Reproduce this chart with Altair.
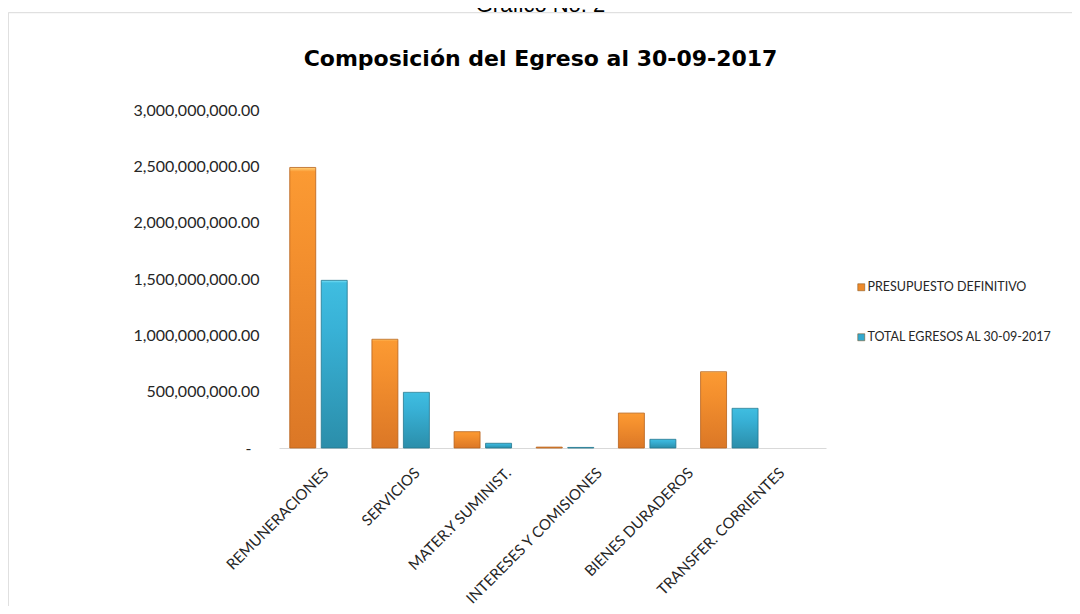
import altair as alt
import pandas as pd

categories = ["REMUNERACIONES", "SERVICIOS", "MATER.Y SUMINIST.",
              "INTERESES Y COMISIONES", "BIENES DURADEROS", "TRANSFER. CORRIENTES"]
series = ["PRESUPUESTO DEFINITIVO", "TOTAL EGRESOS AL 30-09-2017"]
presupuesto = [2490000000, 965000000, 145000000, 8000000, 310000000, 677000000]
egresos = [1488000000, 494000000, 42000000, 5000000, 77000000, 352000000]
y_ticks = [0, 500000000, 1000000000, 1500000000, 2000000000, 2500000000, 3000000000]

rows = []
for c, p, e in zip(categories, presupuesto, egresos):
    rows.append({"cat": c, "series": series[0], "value": p})
    rows.append({"cat": c, "series": series[1], "value": e})
df = pd.DataFrame(rows)
cat_df = pd.DataFrame({"cat": categories})
frame_df = pd.DataFrame({"k": [0]})

W, H = 547, 338

orange_grad = alt.LinearGradient(
    gradient="linear", x1=0, x2=0, y1=0, y2=1,
    stops=[alt.GradientStop(color="#FFD37A", offset=0),
           alt.GradientStop(color="#FB9A33", offset=0.015),
           alt.GradientStop(color="#F4902E", offset=0.3),
           alt.GradientStop(color="#DB7726", offset=1)])
blue_grad = alt.LinearGradient(
    gradient="linear", x1=0, x2=0, y1=0, y2=1,
    stops=[alt.GradientStop(color="#7FE6FA", offset=0),
           alt.GradientStop(color="#3FBDE0", offset=0.015),
           alt.GradientStop(color="#38B1D6", offset=0.3),
           alt.GradientStop(color="#2B8EAA", offset=1)])

x_bar = alt.X("cat:N", sort=categories, axis=None,
              scale=alt.Scale(range=[-1.6, 491.4], paddingInner=0, paddingOuter=0))
xoff = alt.XOffset("series:N", sort=series,
                   scale=alt.Scale(paddingInner=0.175, paddingOuter=0.392))
y_axis = alt.Axis(values=y_ticks, grid=False, domain=False, ticks=False,
                  labelExpr="datum.value == 0 ? '-' : format(datum.value, ',.2f')",
                  labelFont="Lato", labelFontSize=16, labelColor="#262626",
                  labelPadding={"condition": {"test": "datum.value == 0", "value": 28}, "value": 20},
                  title=None)
y_enc = alt.Y("value:Q", scale=alt.Scale(domain=[0, 3000000000], nice=False), axis=y_axis)

base = alt.Chart(df)

legend_layer = base.mark_bar(opacity=0).encode(
    x=x_bar, xOffset=xoff, y=y_enc,
    color=alt.Color("series:N", sort=series,
                    scale=alt.Scale(domain=series, range=["#EE8A2A", "#33A9CF"]),
                    legend=alt.Legend(title=None, orient="none", legendX=576, legendY=171,
                                      symbolType="square", symbolSize=49, symbolOpacity=1,
                                      symbolStrokeColor="#7a4a10", symbolStrokeWidth=0.5,
                                      labelFont="Lato", labelFontSize=12.5, labelColor="#262626",
                                      labelOffset=0, labelLimit=400, rowPadding=37, padding=0)))

orange_layer = base.transform_filter(alt.datum.series == series[0]).mark_bar(
    fill=orange_grad, stroke="#B8621C", strokeWidth=0.8).encode(
    x=x_bar, xOffset=xoff, y=y_enc)
blue_layer = base.transform_filter(alt.datum.series == series[1]).mark_bar(
    fill=blue_grad, stroke="#23768E", strokeWidth=0.8).encode(
    x=x_bar, xOffset=xoff, y=y_enc)

label_layer = alt.Chart(cat_df).mark_point(opacity=0).encode(
    x=alt.X("cat:N", sort=categories,
            scale=alt.Scale(paddingInner=0, paddingOuter=0),
            axis=alt.Axis(title=None, labelAngle=-45, ticks=False, domain=True,
                          domainColor="#D9D9D9", domainWidth=1.2,
                          labelFont="Lato", labelFontSize=15, labelColor="#262626",
                          labelPadding=17, labelOffset=-4, labelLimit=400)))

frame_layer = alt.Chart(frame_df).mark_rect(
    fillOpacity=0, stroke="#D9D9D9", strokeWidth=1).encode(
    x=alt.value(-270.7), x2=alt.value(900), y=alt.value(-97.3), y2=alt.value(700))

chart = alt.layer(frame_layer, legend_layer, orange_layer, blue_layer, label_layer).resolve_scale(
    x="independent").properties(
    width=W, height=H,
    autosize=alt.AutoSizeParams(type="none"),
    padding={"left": 271, "top": 102, "right": 246, "bottom": 158},
    title=alt.TitleParams(
        text="Gráfico No. 2",
        subtitle="Composición del Egreso al 30-09-2017",
        anchor="middle", dx=-12, dy=59,
        font="Liberation Sans", fontSize=22, fontWeight="normal", color="black",
        subtitleFont="DejaVu Sans", subtitleFontSize=22, subtitleFontWeight="bold",
        subtitleColor="black", subtitlePadding=32, offset=0)
).configure_view(stroke=None)

chart.save("out.html", embed_options={"renderer": "svg", "actions": False})
